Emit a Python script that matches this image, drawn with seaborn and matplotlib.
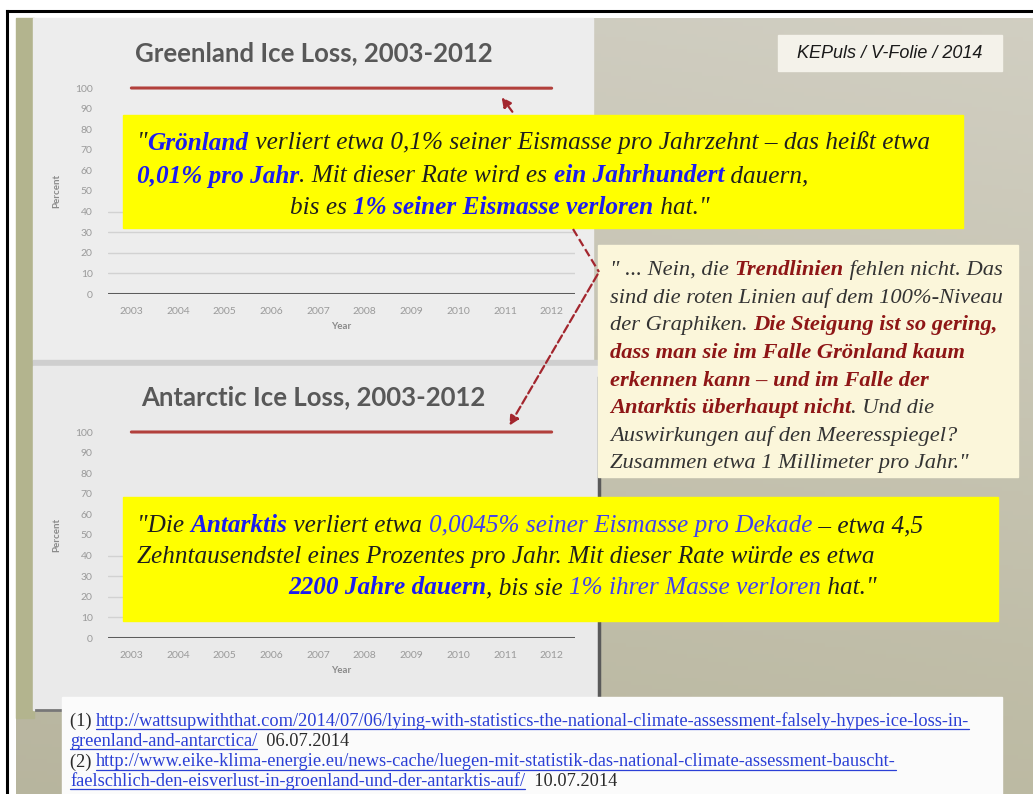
import numpy as np
import matplotlib
matplotlib.use("Agg")
import matplotlib.pyplot as plt
import seaborn as sns
from matplotlib.patches import Rectangle

# data
years = [2003, 2004, 2005, 2006, 2007, 2008, 2009, 2010, 2011, 2012]
greenland_pct = [100.0, 99.99, 99.98, 99.97, 99.96, 99.95, 99.94, 99.93, 99.92, 99.91]
antarctic_pct = [100.0, 99.9996, 99.9991, 99.9987, 99.9982, 99.9978, 99.9973, 99.9969, 99.9964, 99.996]
y_ticks = [0, 10, 20, 30, 40, 50, 60, 70, 80, 90, 100]
grid_levels = [10, 20, 30, 40]
titles = ["Greenland Ice Loss, 2003-2012", "Antarctic Ice Loss, 2003-2012"]

BLK = "#1e1e1e"
BLUE = "#1c1cf0"
LBLUE = "#4040f0"
DRED = "#8e1616"
GRY = "#333333"

# text lines: (text, color, weight)
box1_lines = [
    [('"', BLK, "normal"), ("Grönland", BLUE, "bold"),
     (" verliert etwa 0,1% seiner Eismasse pro Jahrzehnt – das heißt etwa", BLK, "normal")],
    [("0,01% pro Jahr", BLUE, "bold"), (". Mit dieser Rate wird es ", BLK, "normal"),
     ("ein Jahrhundert", BLUE, "bold"), (" dauern,", BLK, "normal")],
    [("bis es ", BLK, "normal"), ("1% seiner Eismasse verloren", BLUE, "bold"), (' hat."', BLK, "normal")],
]
box2_lines = [
    [('"Die ', BLK, "normal"), ("Antarktis", BLUE, "bold"), (" verliert etwa ", BLK, "normal"),
     ("0,0045% seiner Eismasse pro Dekade", LBLUE, "normal"), (" – etwa 4,5", BLK, "normal")],
    [("Zehntausendstel eines Prozentes pro Jahr. Mit dieser Rate würde es etwa", BLK, "normal")],
    [("2200 Jahre dauern", BLUE, "bold"), (", bis sie ", BLK, "normal"),
     ("1% ihrer Masse verloren", LBLUE, "normal"), (' hat."', BLK, "normal")],
]
cream_lines = [
    [('" ... Nein, die ', GRY, "normal"), ("Trendlinien", DRED, "bold"), (" fehlen nicht. Das", GRY, "normal")],
    [("sind die roten Linien auf dem 100%-Niveau", GRY, "normal")],
    [("der Graphiken. ", GRY, "normal"), ("Die Steigung ist so gering,", DRED, "bold")],
    [("dass man sie im Falle Grönland kaum", DRED, "bold")],
    [("erkennen kann – und im Falle der", DRED, "bold")],
    [("Antarktis überhaupt nicht", DRED, "bold"), (". Und die", GRY, "normal")],
    [("Auswirkungen auf den Meeresspiegel?", GRY, "normal")],
    [('Zusammen etwa 1 Millimeter pro Jahr."', GRY, "normal")],
]
foot_lines = [
    [("(1) ", "#2a2a2a", None),
     ("http://wattsupwiththat.com/2014/07/06/lying-with-statistics-the-national-climate-assessment-falsely-hypes-ice-loss-in-", "#2b3fd6", "u")],
    [("greenland-and-antarctica/", "#2b3fd6", "u"), ("  06.07.2014", "#2a2a2a", None)],
    [("(2) ", "#2a2a2a", None),
     ("http://www.eike-klima-energie.eu/news-cache/luegen-mit-statistik-das-national-climate-assessment-bauscht-", "#2b3fd6", "u")],
    [("faelschlich-den-eisverlust-in-groenland-und-der-antarktis-auf/", "#2b3fd6", "u"), ("  10.07.2014", "#2a2a2a", None)],
]

W, H = 1033, 794
fig = plt.figure(figsize=(W / 100, H / 100), dpi=100)
fig.patch.set_facecolor("white")

# background layer in pixel coordinates
bg = fig.add_axes([0, 0, 1, 1], zorder=0)
bg.set_xlim(0, W)
bg.set_ylim(H, 0)
bg.axis("off")

# slide background gradient
gx = np.linspace(0, 1, 200)[None, :]
gy = np.linspace(0, 1, 200)[:, None]
top = np.array([0.80, 0.79, 0.74])
bot = np.array([0.72, 0.71, 0.62])
grad = top[None, None, :] * (1 - gy[..., None]) + bot[None, None, :] * gy[..., None]
grad = grad + 0.02 * gx[..., None]
bg.imshow(np.clip(grad, 0, 1), extent=(16, W, H, 18), aspect="auto", zorder=0)

bg.add_patch(Rectangle((16, 18), 18, 700, color="#b3b48e", zorder=1))
bg.add_patch(Rectangle((33, 18), 560, 342, color="#ededed", zorder=1))
bg.add_patch(Rectangle((33, 360), 565, 6, color="#cfcfcf", zorder=1))
bg.add_patch(Rectangle((33, 366), 565, 344, color="#eaeaea", zorder=1))
bg.plot([599, 599], [378, 705], color="#5a5a5a", lw=2.5, zorder=2)
bg.plot([36, 64], [710, 710], color="#777777", lw=2, zorder=2)

# frame
bg.plot([7, 7], [11, H], color="black", lw=2.2, zorder=5)
bg.plot([7, W], [11, 11], color="black", lw=2.2, zorder=5)

# charts
sns.set_style("white")
plt.rcParams["font.family"] = ["Lato", "DejaVu Sans"]


def make_chart(zero_y, values, title):
    ax = fig.add_axes([108 / W, (H - zero_y) / H, 467 / W, 206 / H], zorder=1)
    ax.patch.set_alpha(0)
    for lvl in grid_levels:
        ax.axhline(lvl, color="#d2d2d2", lw=1, zorder=1)
    ax.axhline(0, color="#5c5c5c", lw=2.2, zorder=2)
    sns.lineplot(x=years, y=values, ax=ax, color="#b2403c", lw=2.2, clip_on=False, zorder=3)
    ax.set_xlim(2002.5, 2012.5)
    ax.set_ylim(0, 100)
    ax.set_yticks(y_ticks)
    ax.set_xticks(years)
    ax.tick_params(length=0, labelsize=7.5, labelcolor="#9a9a9a", pad=9)
    ax.tick_params(axis="y", pad=11)
    for s in ax.spines.values():
        s.set_visible(False)
    ax.set_xlabel("Year", fontsize=7, color="#8a8a8a", fontweight="bold", labelpad=5)
    ax.set_ylabel("Percent", fontsize=7, color="#8a8a8a", fontweight="bold", labelpad=10)
    ax.text(0.44, 1.17, title, transform=ax.transAxes, ha="center", va="center",
            fontsize=18.5, fontweight="bold", color="#585858")
    return ax


ax1 = make_chart(294, greenland_pct, titles[0])
ax2 = make_chart(638, antarctic_pct, titles[1])

# foreground overlay
fg = fig.add_axes([0, 0, 1, 1], zorder=2)
fg.set_xlim(0, W)
fg.set_ylim(H, 0)
fg.axis("off")
fg.patch.set_alpha(0)

renderer = fig.canvas.get_renderer()


def rich_line(x, y, parts, size, family, style="italic"):
    for txt, color, weight in parts:
        t = fg.text(x, y, txt, color=color, fontsize=size, fontweight=weight, fontstyle=style,
                    family=family, va="center", ha="left", zorder=5)
        x = t.get_window_extent(renderer=renderer).x1
    return x


serif = ["Liberation Serif", "DejaVu Serif"]

# KEPuls label
fg.add_patch(Rectangle((778, 35), 224, 36, color="#f4f2ea", zorder=3))
fg.text(890, 54, "KEPuls / V-Folie / 2014", fontsize=13, fontstyle="italic",
        family=["Liberation Sans", "DejaVu Sans"], color="#1a1a1a", ha="center", va="center", zorder=5)

# yellow box 1
fg.add_patch(Rectangle((123, 115), 840, 113, color="#ffff00", zorder=3))
rich_line(137, 143, box1_lines[0], 18.2, serif)
rich_line(137, 176, box1_lines[1], 18.2, serif)
rich_line(290, 208, box1_lines[2], 18.2, serif)

# cream box
fg.add_patch(Rectangle((598, 245), 420, 232, color="#fbf6da", zorder=3))
for i, ln in enumerate(cream_lines):
    rich_line(610, 270 + i * 27.7, ln, 16.2, serif)

# yellow box 2
fg.add_patch(Rectangle((123, 497), 875, 124, color="#ffff00", zorder=3))
rich_line(137, 526, box2_lines[0], 18.2, serif)
rich_line(137, 557, box2_lines[1], 18.2, serif)
rich_line(288, 588, box2_lines[2], 18.2, serif)

# arrows
acol = "#a3262e"
fg.annotate("", xy=(500, 95), xytext=(514, 114),
            arrowprops=dict(arrowstyle="-|>", color=acol, lw=1.6, ls="--", mutation_scale=14), zorder=6)
fg.plot([573, 599], [229, 272], color=acol, lw=1.6, ls="--", zorder=6)
fg.annotate("", xy=(508, 428), xytext=(599, 272),
            arrowprops=dict(arrowstyle="-|>", color=acol, lw=1.6, ls="--", mutation_scale=14), zorder=6)

# footnote box
fg.add_patch(Rectangle((62, 697), 940, 100, color="#fbfbfb", zorder=3))
for y, ln in zip([721, 741, 762, 781], foot_lines):
    x = 70
    for txt, color, u in ln:
        t = fg.text(x, y, txt, color=color, fontsize=13.2, family=serif, va="center", ha="left", zorder=5)
        bb = t.get_window_extent(renderer=renderer)
        if u:
            fg.plot([x, bb.x1], [y + 8, y + 8], color=color, lw=0.9, zorder=5)
        x = bb.x1

fig.savefig("out.png", dpi=100)
